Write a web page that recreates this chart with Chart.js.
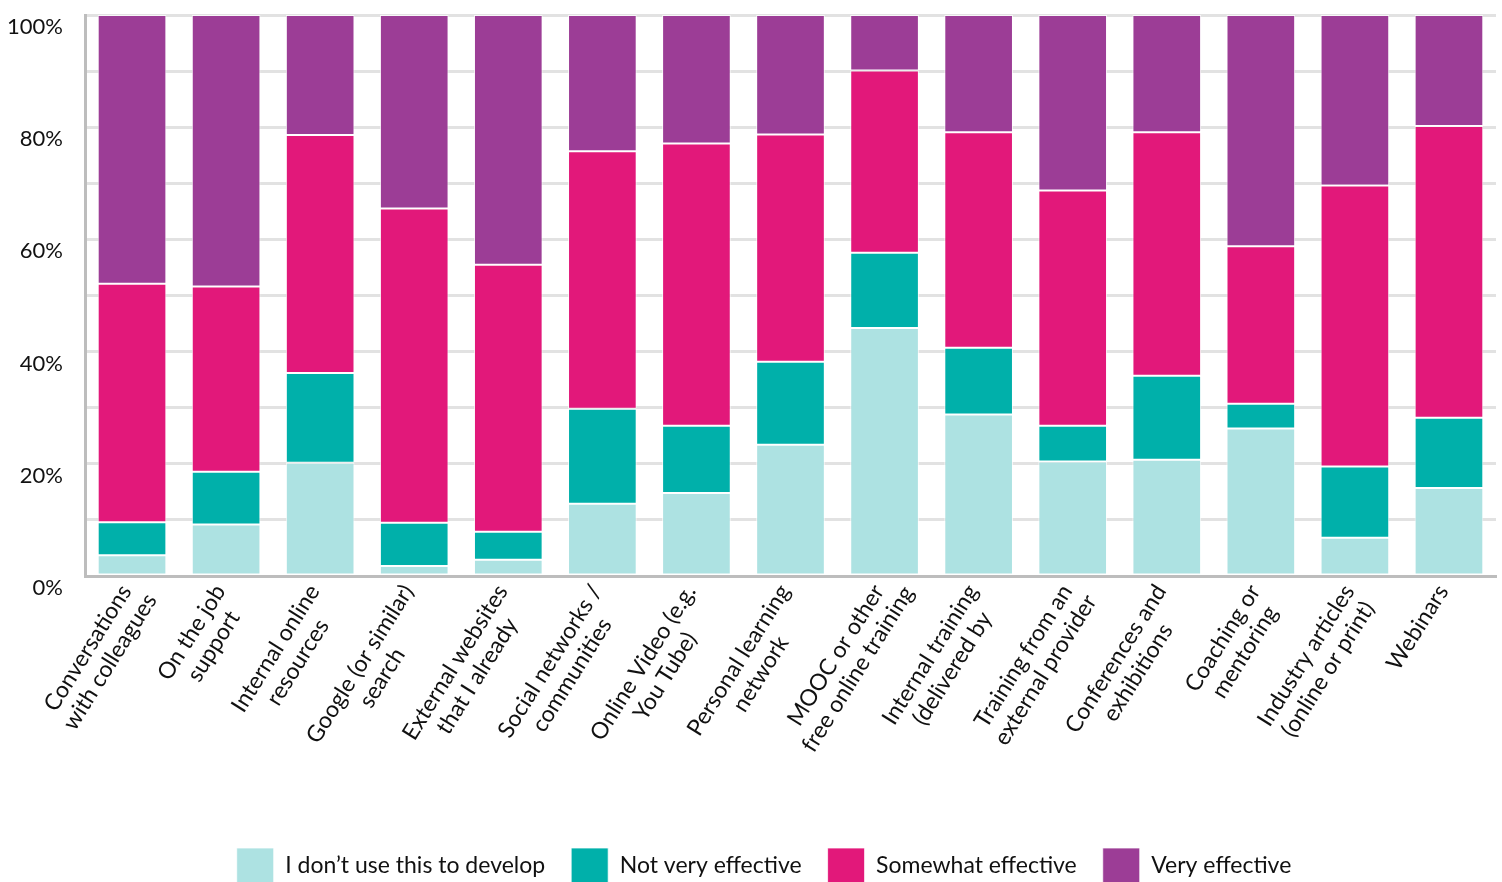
<!DOCTYPE html>
<html>
<head>
<meta charset="utf-8">
<script src="https://cdn.jsdelivr.net/npm/chart.js@4"></script>
<style>
  html, body { margin: 0; padding: 0; background: #fff; overflow: hidden; }
  #wrap { width: 1502px; height: 894px; }
</style>
</head>
<body>
<div id="wrap"><canvas id="effectChart"></canvas></div>
<script>
const categories = [
    ['Conversations', 'with colleagues'],
    ['On the job', 'support'],
    ['Internal online', 'resources'],
    ['Google (or similar)', 'search'],
    ['External websites', 'that I already'],
    ['Social networks /', 'communities'],
    ['Online Video (e.g.', 'You Tube)'],
    ['Personal learning', 'network'],
    ['MOOC or other', 'free online training'],
    ['Internal training', '(delivered by'],
    ['Training from an', 'external provider'],
    ['Conferences and', 'exhibitions'],
    ['Coaching or', 'mentoring'],
    ['Industry articles', '(online or print)'],
    ['Webinars']
];

// percentages per answer, one value per category
const dontUse = [3.7, 9.2, 20.2, 1.8, 2.9, 12.9, 14.8, 23.4, 44.2, 28.8, 20.4, 20.7, 26.3, 6.8, 15.7];
const notVery = [5.9, 9.4, 16.0, 7.7, 5.0, 16.9, 12.0, 14.8, 13.4, 11.9, 6.4, 15.0, 4.4, 12.7, 12.5];
const somewhat = [42.5, 33.0, 42.4, 56.0, 47.6, 45.9, 50.3, 40.5, 32.5, 38.4, 41.9, 43.4, 28.1, 50.1, 52.0];
const veryEffective = [47.9, 48.4, 21.4, 34.5, 44.5, 24.3, 22.9, 21.3, 9.9, 20.9, 31.3, 20.9, 41.2, 30.4, 19.8];

const yTicks = [0, 20, 40, 60, 80, 100];

const FONT = 'Lato, "Open Sans", sans-serif';

function series(label, data, color) {
    return {
        label: label,
        data: data,
        backgroundColor: color,
        borderColor: 'rgba(255, 255, 255, 0.75)',
        borderWidth: 1,
        borderSkipped: false,
        barPercentage: 0.73,
        categoryPercentage: 1.0
    };
}

// category labels: rotated, first line ends at the tick, other lines centred on it
const slantedLabels = {
    id: 'slantedLabels',
    afterLayout(chart) {
        // nudge the legend row a little to the right
        chart.legend.left += 16;
        chart.legend.right += 16;
    },
    afterDraw(chart) {
        const scale = chart.scales.x;
        const c = chart.ctx;
        const angle = -58 * Math.PI / 180;
        const lineHeight = 26;
        c.save();
        c.font = '23px ' + FONT;
        c.fillStyle = '#111';
        c.textBaseline = 'middle';
        c.textAlign = 'center';
        chart.data.labels.forEach((lines, i) => {
            const x = scale.getPixelForTick(i) - 6;
            const y = scale.top + 11;
            const w1 = c.measureText(lines[0]).width;
            c.save();
            c.translate(x, y);
            c.rotate(angle);
            lines.forEach((line, k) => {
                c.fillText(line, -w1 / 2, k * lineHeight);
            });
            c.restore();
        });
        c.restore();
    }
};

const ctx = document.getElementById('effectChart').getContext('2d');
new Chart(ctx, {
    type: 'bar',
    data: {
        labels: categories,
        datasets: [
            series('I don\u2019t use this to develop', dontUse, '#ade2e2'),
            series('Not very effective', notVery, '#00b0aa'),
            series('Somewhat effective', somewhat, '#e2187a'),
            series('Very effective', veryEffective, '#9c3d96')
        ]
    },
    options: {
        responsive: true,
        maintainAspectRatio: false,
        animation: false,
        layout: { padding: { top: 15, right: 6, left: 0, bottom: 0 } },
        plugins: {
            tooltip: { enabled: false },
            legend: {
                position: 'bottom',
                labels: {
                    color: '#111',
                    font: { family: FONT, size: 23 },
                    boxWidth: 37,
                    boxHeight: 36,
                    padding: 26
                }
            }
        },
        scales: {
            x: {
                stacked: true,
                grid: { display: false },
                border: { color: '#bdbdbd', width: 3 },
                ticks: { display: false },
                afterFit: scale => { scale.height = 246; }
            },
            y: {
                stacked: true,
                min: 0,
                max: 100,
                grid: { color: '#e2e2e2', lineWidth: 3, drawTicks: false },
                border: { color: '#bdbdbd', width: 3 },
                ticks: {
                    stepSize: 10,
                    color: '#111',
                    font: { family: FONT, size: 22 },
                    padding: 22,
                    labelOffset: 12,
                    callback: v => yTicks.includes(v) ? v + '%' : ''
                },
                afterFit: scale => {
                    scale.width = 85;
                    scale.paddingTop = 0;
                    scale.paddingBottom = 0;
                }
            }
        }
    },
    plugins: [slantedLabels]
});
</script>
</body>
</html>
